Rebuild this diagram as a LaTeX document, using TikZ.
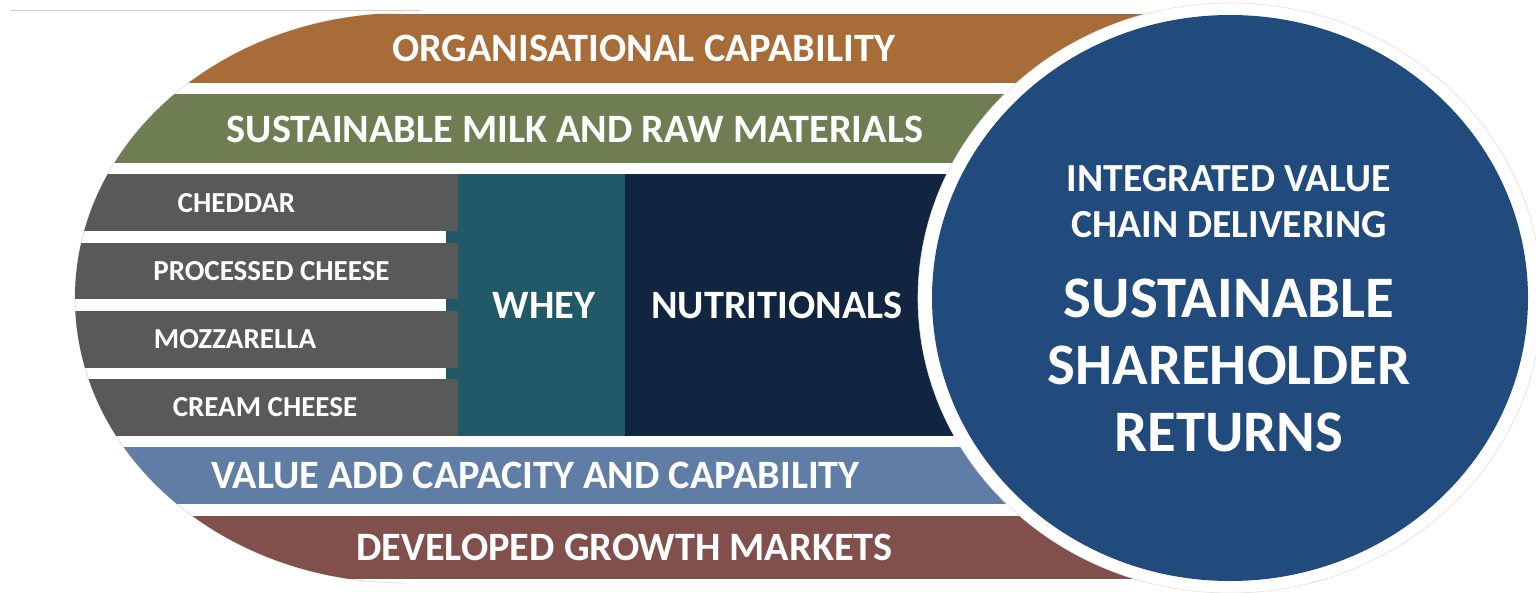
\documentclass[tikz,border=0pt]{standalone}
\usepackage{fontspec}
\setmainfont{Carlito}
\definecolor{cOrange}{HTML}{A86C38}
\definecolor{cGreen}{HTML}{6F7E52}
\definecolor{cGray}{HTML}{595959}
\definecolor{cTeal}{HTML}{225968}
\definecolor{cNavy}{HTML}{122540}
\definecolor{cLightBlue}{HTML}{5F7DA5}
\definecolor{cBrown}{HTML}{81504D}
\definecolor{cCircle}{HTML}{214A7D}
\definecolor{cEdge}{HTML}{D0D0D0}
\tikzset{
  lbl/.style={text=white, inner sep=0pt, anchor=base, font=\bfseries\fontsize{40.3}{44}\selectfont},
  smalllbl/.style={lbl, font=\bfseries\fontsize{29}{32}\selectfont},
  midlbl/.style={lbl, font=\bfseries\fontsize{39.8}{44}\selectfont},
  biglbl/.style={lbl, font=\bfseries\fontsize{58.8}{64}\selectfont},
}
\begin{document}
\begin{tikzpicture}[x=1pt,y=-1pt]
\useasboundingbox (0,0) rectangle (1536,592);
% faint top line
\draw[cEdge, line width=1pt] (10,10) -- (420,10);
% faint outline of the oval
\draw[black!12, line width=0.8pt] (405,13) arc[start angle=270, end angle=90, x radius=330, y radius=285];
\begin{scope}
  \clip (405,13) arc[start angle=270, end angle=90, x radius=330, y radius=285] -- (1230,583) -- (1230,13) -- cycle;
  \fill[cOrange] (0,14) rectangle (1230,83);
  \fill[cGreen] (0,94) rectangle (1230,163);
  \fill[cTeal] (446,174) rectangle (625,436);
  \fill[cNavy] (625,174) rectangle (1230,436);
  \fill[cGray] (0,174) rectangle (458,231);
  \fill[cGray] (0,243) rectangle (458,299);
  \fill[cGray] (0,311) rectangle (458,368);
  \fill[cGray] (0,379) rectangle (458,436);
  \fill[cLightBlue] (0,447) rectangle (1230,504);
  \fill[cBrown] (0,516) rectangle (1230,579);
\end{scope}
% circle with white ring
\fill[white] (1230,298) ellipse[x radius=312, y radius=295];
\draw[black!12, line width=0.6pt] (1230,298) ellipse[x radius=312, y radius=295];
\fill[cCircle] (1230,298) ellipse[x radius=298, y radius=283];
% band labels
\node[lbl] (org) at (643.5,61) {ORGANISATIONAL CAPABILITY};
\node[lbl] (milk) at (575,142) {SUSTAINABLE MILK AND RAW MATERIALS};
\node[lbl] (vadd) at (535.5,488) {VALUE ADD CAPACITY AND CAPABILITY};
\node[lbl] (mkts) at (624.5,560) {DEVELOPED GROWTH MARKETS};
% cheese rows
\node[smalllbl] (ched) at (236.5,212) {CHEDDAR};
\node[smalllbl] (proc) at (271.5,280) {PROCESSED CHEESE};
\node[smalllbl] (mozz) at (235,348) {MOZZARELLA};
\node[smalllbl] (cream) at (265,416) {CREAM CHEESE};
% columns
\node[lbl] (whey) at (544,318) {WHEY};
\node[lbl] (nutr) at (777,318) {NUTRITIONALS};
% circle text
\node[midlbl] (ivc1) at (1229,191) {INTEGRATED VALUE};
\node[midlbl] (ivc2) at (1229,237) {CHAIN DELIVERING};
\node[biglbl] (ssr1) at (1229,317) {SUSTAINABLE};
\node[biglbl] (ssr2) at (1229,384) {SHAREHOLDER};
\node[biglbl] (ssr3) at (1229,451) {RETURNS};
\end{tikzpicture}
\end{document}
